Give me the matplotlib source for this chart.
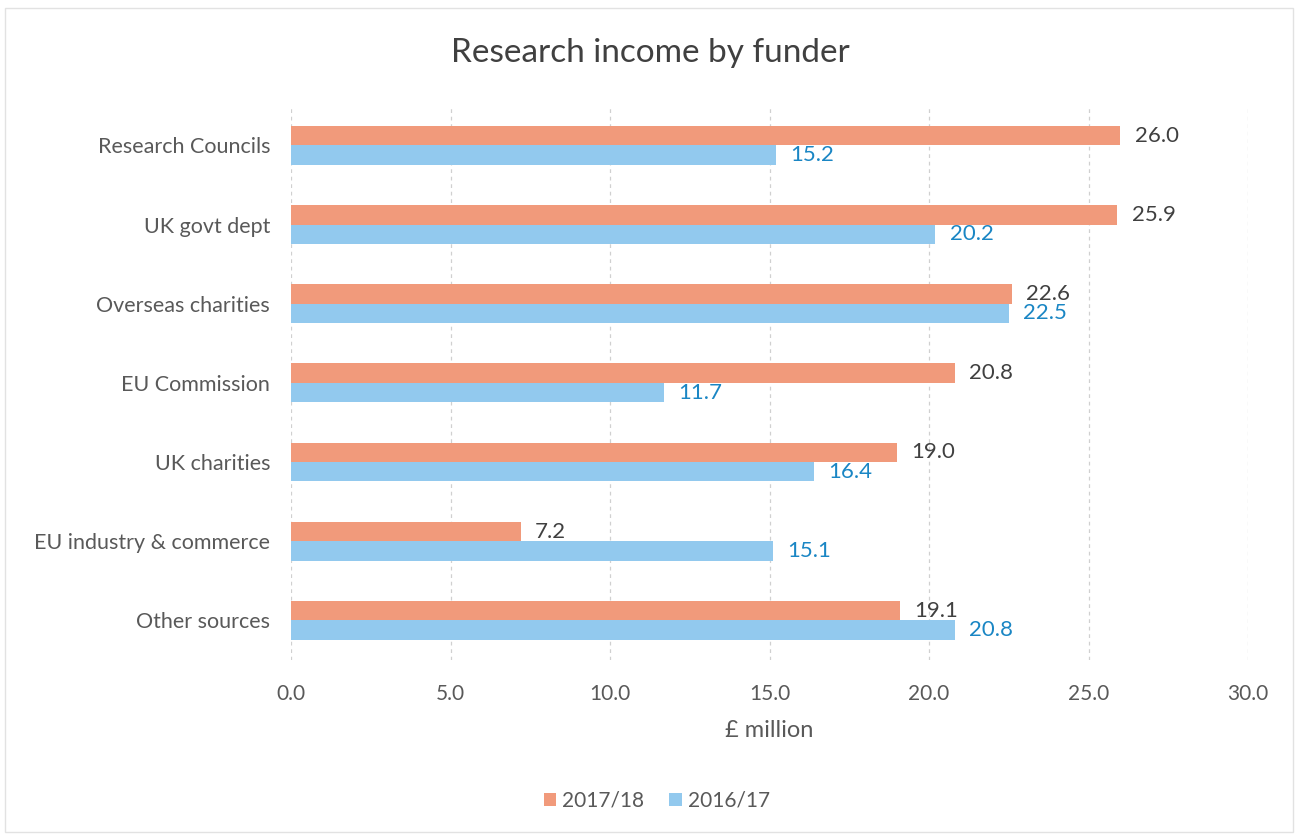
import numpy as np
import matplotlib.pyplot as plt

# ── data ─────────────────────────────────────────────────────────────────────
funders = ["Research Councils", "UK govt dept", "Overseas charities",
           "EU Commission", "UK charities", "EU industry & commerce",
           "Other sources"]
income_1718 = [26.0, 25.9, 22.6, 20.8, 19.0, 7.2, 19.1]
income_1617 = [15.2, 20.2, 22.5, 11.7, 16.4, 15.1, 20.8]
x_ticks = [0, 5, 10, 15, 20, 25, 30]

ORANGE = "#F19A7B"
BLUE = "#92C9EE"
GREY = "#595959"
plt.rcParams["font.family"] = ["Lato", "DejaVu Sans"]

# ── figure ───────────────────────────────────────────────────────────────────
fig = plt.figure(figsize=(13.01, 8.36), dpi=100)
ax = fig.add_axes([0.2237, 0.2105, 0.7356, 0.663])

y = np.arange(len(funders))
h = 0.245
b1 = ax.barh(y - h / 2, income_1718, height=h, color=ORANGE, label="2017/18", zorder=3)
b2 = ax.barh(y + h / 2, income_1617, height=h, color=BLUE, label="2016/17", zorder=3)

for rect, v in zip(b1, income_1718):
    ax.text(v + 0.45, rect.get_y() + rect.get_height() / 2, f"{v:.1f}",
            va="center", ha="left", fontsize=16, color="#404040")
for rect, v in zip(b2, income_1617):
    ax.text(v + 0.45, rect.get_y() + rect.get_height() / 2, f"{v:.1f}",
            va="center", ha="left", fontsize=16, color="#1A86C4")

ax.set_xlim(0, 30)
ax.set_ylim(len(funders) - 0.5, -0.5)
ax.set_yticks(y)
ax.set_yticklabels(funders, fontsize=15.5, color=GREY)
ax.set_xticks(x_ticks)
ax.set_xticklabels([f"{t:.1f}" for t in x_ticks], fontsize=15, color=GREY)
ax.tick_params(length=0)
ax.tick_params(axis="x", pad=17)
ax.tick_params(axis="y", pad=15)
ax.grid(axis="x", color="#D0D0D0", lw=0.9, ls=(0, (3, 3)), zorder=0)
for sp in ax.spines.values():
    sp.set_visible(False)

ax.set_xlabel("£ million", fontsize=17, color=GREY, labelpad=12)
fig.text(0.5, 0.937, "Research income by funder", ha="center", va="center",
         fontsize=24, color="#404040")

fig.legend(handles=[b1, b2], loc="center", bbox_to_anchor=(0.505, 0.042), ncol=2,
           frameon=False, fontsize=15, handlelength=0.6, handleheight=0.6,
           handletextpad=0.3, columnspacing=1.2, labelcolor=GREY)

fig.patches.append(plt.Rectangle((0.004, 0.005), 0.99, 0.985, transform=fig.transFigure,
                                 fill=False, ec="#E2E2E2", lw=1))

fig.savefig("out.png", dpi=100, facecolor="white")
